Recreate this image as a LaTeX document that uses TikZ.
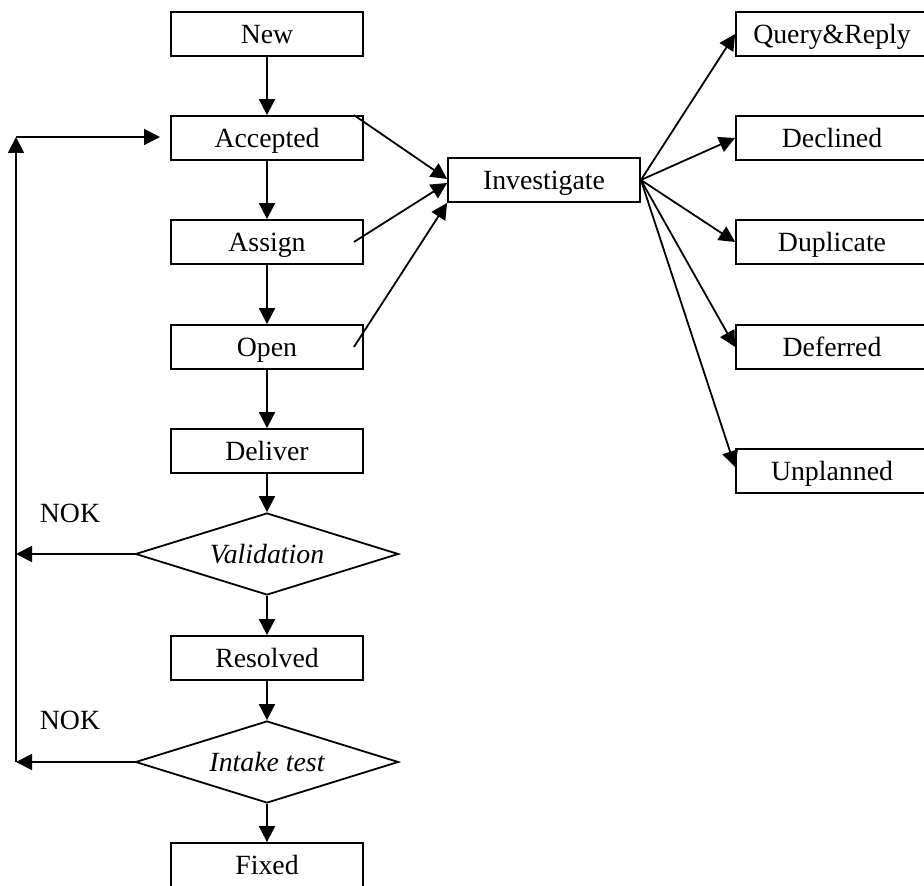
\documentclass[tikz,border=0pt]{standalone}
\usepackage{fontspec}
\setmainfont{Liberation Serif}
\usetikzlibrary{shapes.geometric}
\usetikzlibrary{arrows.meta}

\begin{document}
\begin{tikzpicture}[x=0.5pt, y=-0.5pt,
  statebox/.style={draw=black, fill=white, line width=0.9pt, minimum width=96pt, minimum height=22pt, inner sep=0pt, text height=11pt, text depth=1.3pt, font=\fontsize{13.9}{16}\selectfont},
  decision/.style={draw=black, fill=white, diamond, shape aspect=3.2, line width=0.9pt, minimum width=131.5pt, minimum height=41pt, inner sep=0pt, font=\fontsize{13.9}{16}\selectfont\itshape},
  flow/.style={line width=0.9pt, -{Triangle[length=8pt,width=8pt]}}]
\useasboundingbox (0,0) rectangle (924,886);
% Main column
\node[statebox] (new) at (267,34) {New};
\node[statebox] (accepted) at (267,138) {Accepted};
\node[statebox] (assign) at (267,242) {Assign};
\node[statebox] (open) at (267,347) {Open};
\node[statebox] (deliver) at (267,451) {Deliver};
\node[decision] (validation) at (267,554) {Validation};
\node[statebox] (resolved) at (267,658) {Resolved};
\node[decision] (intake) at (267,762) {Intake test};
\node[statebox] (fixed) at (267,865) {Fixed};
% Investigation
\node[statebox] (invest) at (544,180) {Investigate};
\node[statebox] (query) at (832,34) {Query\&Reply};
\node[statebox] (declined) at (832,138) {Declined};
\node[statebox] (duplicate) at (832,242) {Duplicate};
\node[statebox] (deferred) at (832,347) {Deferred};
\node[statebox] (unplanned) at (832,471) {Unplanned};
% Labels
\node[font=\fontsize{13.9}{16}\selectfont] (nokval) at (70,513) {NOK};
\node[font=\fontsize{13.9}{16}\selectfont] (nokint) at (70,720) {NOK};
% Loop back
\coordinate (valleft) at (16,554);
\coordinate (loopbot) at (16,762);
\coordinate (looptop) at (16,137);
\coordinate (loopend) at (160,137);
% Main flow
\draw[flow] (new) -- (accepted);
\draw[flow] (accepted) -- (assign);
\draw[flow] (assign) -- (open);
\draw[flow] (open) -- (deliver);
\draw[flow] (deliver) -- (validation);
\draw[flow] (validation) -- (resolved);
\draw[flow] (resolved) -- (intake);
\draw[flow] (intake) -- (fixed);
% NOK
\draw[flow] (validation.west) -- (valleft);
\draw[flow] (intake.west) -- (loopbot);
\draw[flow] (loopbot) -- (looptop);
\draw[flow] (looptop) -- (loopend);
% To investigate
\draw[flow] ([xshift=-5pt]accepted.north east) -- ([yshift=0.5pt]invest.west);
\draw[flow] ([xshift=-5pt]assign.east) -- ([yshift=-1.5pt]invest.west);
\draw[flow] ([xshift=-5pt]open.east) -- (invest.south west);
% From investigate
\draw[flow] (invest.east) -- (query.west);
\draw[flow] (invest.east) -- (declined.west);
\draw[flow] (invest.east) -- (duplicate.west);
\draw[flow] (invest.east) -- (deferred.west);
\draw[flow] (invest.east) -- ([yshift=2pt]unplanned.west);
\end{tikzpicture}
\end{document}
